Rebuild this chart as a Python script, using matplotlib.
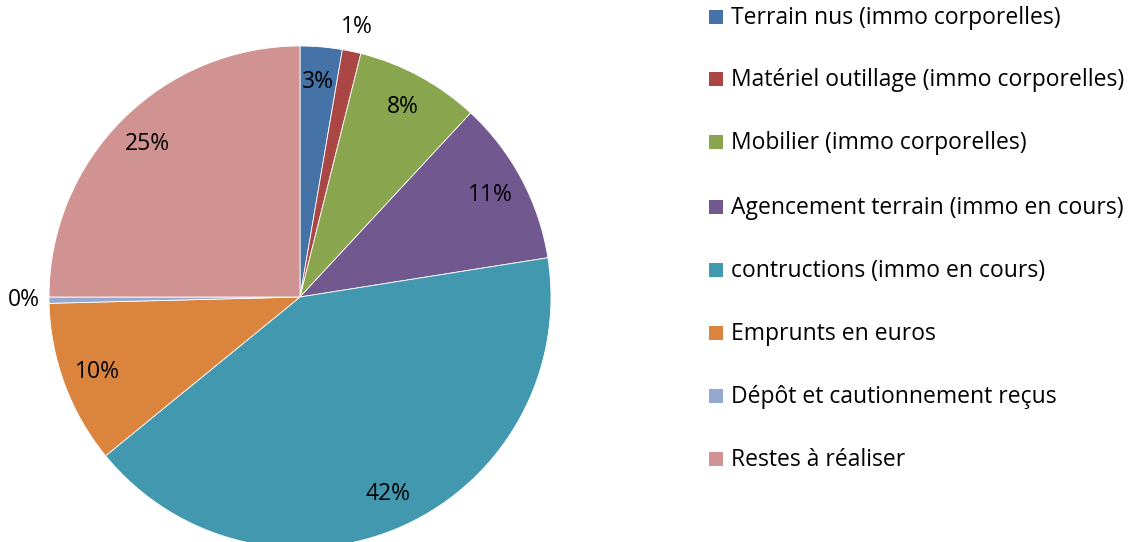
import matplotlib
matplotlib.use("Agg")
import matplotlib.pyplot as plt
import numpy as np

labels = [
    "Terrain nus (immo corporelles)",
    "Matériel outillage (immo corporelles)",
    "Mobilier (immo corporelles)",
    "Agencement terrain (immo en cours)",
    "contructions (immo en cours)",
    "Emprunts en euros",
    "Dépôt et cautionnement reçus",
    "Restes à réaliser",
]
shares = [2.7, 1.2, 8.0, 10.6, 41.6, 10.5, 0.4, 25.0]
pct_text = ["3%", "1%", "8%", "11%", "42%", "10%", "0%", "25%"]
colors = ["#4572A7", "#AA4643", "#89A54E", "#71588F", "#4198AF",
          "#DB843D", "#93A9CF", "#D19392"]

plt.rcParams['font.family'] = ['Open Sans', 'DejaVu Sans']

W, H = 1136, 542
fig = plt.figure(figsize=(W / 100, H / 100), dpi=100)
ax = fig.add_axes([0, 0, 1, 1])

wedges, _ = ax.pie(shares, colors=colors, startangle=90, counterclock=False,
                   radius=1.0, wedgeprops=dict(edgecolor='white', linewidth=0.6))

# pie centre and radius in pixels
cx, cy, R = 300, 297, 251
ax.set_xlim(-cx / R, (W - cx) / R)
ax.set_ylim(-(H - cy) / R, cy / R)
ax.set_aspect('equal')
ax.axis('off')

for w, txt, val in zip(wedges, pct_text, shares):
    ang = np.deg2rad((w.theta1 + w.theta2) / 2)
    r = 0.86 if val >= 2 else 1.1
    ax.text(r * np.cos(ang), r * np.sin(ang), txt, ha='center', va='center',
            fontsize=16.5, color='black')

# legend drawn in figure pixels
row_y = [18, 80, 143, 208, 271, 334, 397, 460]
for y, lab, c in zip(row_y, labels, colors):
    ax.add_patch(plt.Rectangle((709 / W, 1 - (y + 6) / H), 14 / W, 14 / H,
                               transform=fig.transFigure, facecolor=c,
                               edgecolor='none', clip_on=False, zorder=5))
    fig.text(731 / W, 1 - y / H, lab, ha='left', va='center', fontsize=16.5,
             color='black')

fig.savefig("out.png", dpi=100)
